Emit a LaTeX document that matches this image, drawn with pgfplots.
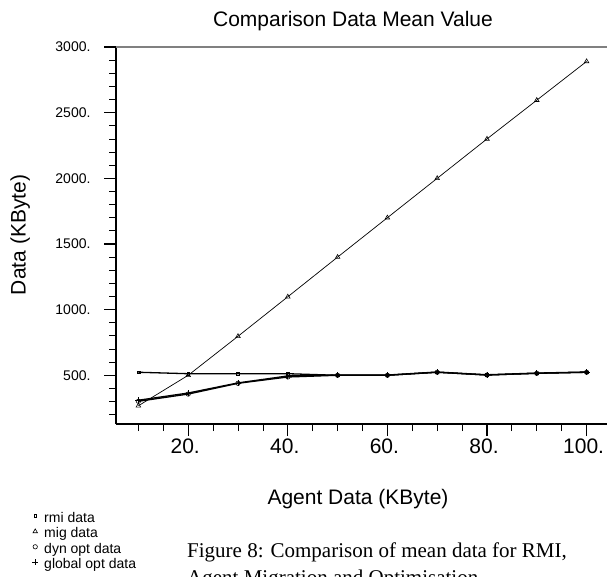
\documentclass[border=0pt]{standalone}
\usepackage{pgfplots}
\pgfplotsset{compat=1.18}
\usepackage{fontspec}
\setmainfont{Liberation Sans}
\newfontfamily\serifcap{Liberation Serif}

\begin{document}
\begin{tikzpicture}[x=1pt,y=1pt]
\begin{axis}[
  at={(116pt,152pt)}, anchor=south west,
  scale only axis, width=491pt, height=377pt,
  xmin=5.5, xmax=104.1, ymin=129, ymax=3000,
  axis lines*=left,
  axis line style={-, line width=1.2pt},
  tick align=outside,
  xtick={20,40,60,80,100}, xticklabels={20.,40.,60.,80.,100.},
  minor xtick={10,15,...,100},
  ytick={500,1000,...,3000}, yticklabels={500.,1000.,1500.,2000.,2500.,3000.},
  minor ytick={200,300,...,2900},
  major tick length=12pt, minor tick length=7pt,
  every major tick/.style={black, line width=1.2pt},
  every minor tick/.style={black, line width=0.8pt},
  xticklabel style={font=\fontsize{21}{24}\selectfont, xshift=-3pt, yshift=1pt},
  yticklabel style={font=\fontsize{14}{16}\selectfont, xshift=-10pt},
  /pgf/number format/assume math mode=true,
  clip=false,
  legend style={at={(-0.171,-0.2347)}, anchor=north west, draw=none, fill=none,
    font=\fontsize{14}{16}\selectfont, row sep=2.3pt, column sep=6pt, inner sep=0pt,
    nodes={inner sep=0pt, text height=10pt, text depth=3pt}},
  legend cell align=left,
  legend image code/.code={\draw[#1] plot[only marks] coordinates {(0pt,3pt)};},
]
\addplot[black, line width=1.3pt, mark=square, mark size=1.4pt, mark options={line width=0.6pt}]
  coordinates {(10,523)(20,512)(30,512)(40,512)(50,500)(60,500)(70,523)(80,502)(90,515)(100,523)};
\addlegendentry{rmi data}
\addplot[black, line width=0.7pt, mark=triangle, mark size=2.6pt, mark options={line width=0.6pt}]
  coordinates {(10,268)(20,500)(30,797)(40,1098)(50,1400)(60,1700)(70,2000)(80,2300)(90,2595)(100,2890)};
\addlegendentry{mig data}
\addplot[black, line width=1.3pt, mark=o, mark size=2.2pt, mark options={line width=0.6pt}]
  coordinates {(10,302)(20,357)(30,439)(40,487)(50,500)(60,500)(70,523)(80,502)(90,515)(100,523)};
\addlegendentry{dyn opt data}
\addplot[black, line width=1.3pt, mark=+, mark size=3pt, mark options={line width=0.8pt}]
  coordinates {(10,310)(20,365)(30,442)(40,495)(50,502)(60,502)(70,525)(80,504)(90,517)(100,525)};
\addlegendentry{global opt data}
\draw[gray, line width=1.5pt] (rel axis cs:0,1) -- (rel axis cs:1,1);
\end{axis}
\node[anchor=base, inner sep=0pt, font=\fontsize{21}{24}\selectfont] at (353,549) {Comparison Data Mean Value};
\node[anchor=base, rotate=90, inner sep=0pt, font=\fontsize{21}{24}\selectfont] at (25.5,341) {Data (KByte)};
\node[anchor=base, inner sep=0pt, font=\fontsize{21}{24}\selectfont] at (358,71.3) {Agent Data (KByte)};
\node[anchor=base west, inner sep=0pt, font=\serifcap\fontsize{21}{24}\selectfont] at (187,18.7) {Figure 8: Comparison of mean data for RMI,};
\node[anchor=base west, inner sep=0pt, font=\serifcap\fontsize{21}{24}\selectfont] at (187,-8) {Agent Migration and Optimisation};
\pgfresetboundingbox
\path[use as bounding box] (0,0) rectangle (607,576);
\end{tikzpicture}
\end{document}
